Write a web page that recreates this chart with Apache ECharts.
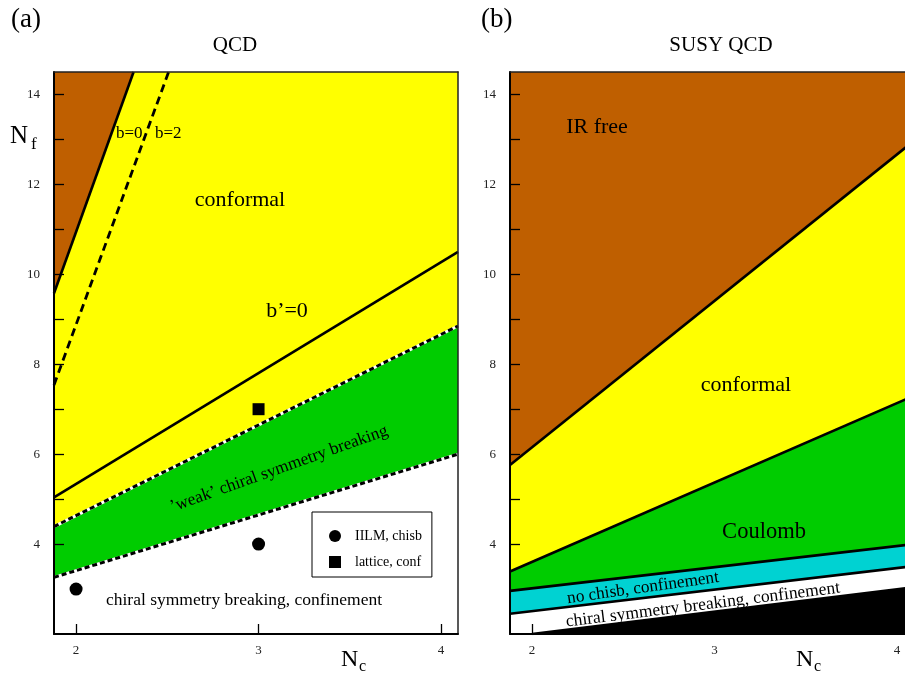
<!DOCTYPE html>
<html><head><meta charset="utf-8">
<script src="https://cdn.jsdelivr.net/npm/echarts@6/dist/echarts.min.js"></script>
<style>html,body{margin:0;padding:0;background:#fff}#c{width:905px;height:673px}</style>
</head><body><div id="c"></div>
<script>
// ---- axis ranges and ticks ----
const xRange = [1.879, 4.093];
const yRange = [2.0, 14.5];
const xTicks = [2, 3, 4];
const yTickLabels = [4, 6, 8, 10, 12, 14];
const yTicks = [4, 5, 6, 7, 8, 9, 10, 11, 12, 13, 14];

// ---- panel (a) QCD: boundary lines [Nc, Nf] ----
const qcdB0 = [[1.879, 9.58], [2.315, 14.5]];
const qcdB2 = [[1.879, 7.54], [2.507, 14.5]];
const qcdBp0 = [[1.879, 5.04], [4.093, 10.5]];
const qcdWeakTop = [[1.879, 4.39], [4.093, 8.85]];
const qcdWeakBottom = [[1.879, 3.26], [4.093, 6.0]];
const iilmPoints = [[2, 3], [3, 4]];
const latticePoints = [[3, 7]];

// ---- panel (b) SUSY QCD: boundary lines [Nc, Nf] ----
const susyIRfree = [[1.879, 5.76], [4.093, 12.97]];
const susyConformal = [[1.879, 3.39], [4.093, 7.30]];
const susyCoulomb = [[1.879, 2.96], [4.093, 4.0]];
const susyNoChisb = [[1.879, 2.45], [4.093, 3.51]];
const susyChisb = [[2.0, 2.0], [4.093, 3.04]];

const SERIF = '"Liberation Serif", "DejaVu Serif", serif';
const BROWN = '#bf5f00', YELLOW = '#ffff00', GREEN = '#00cc00', CYAN = '#00d2d2';

function xAxes(g) {
  return [{
    type: 'value', gridIndex: g, min: xRange[0], max: xRange[1], position: 'bottom', z: 20,
    axisLine: {show: true, onZero: false, lineStyle: {color: '#000', width: 2}},
    axisTick: {show: true, inside: true, length: 10, customValues: xTicks, lineStyle: {color: '#000', width: 1.3}},
    axisLabel: {show: true, customValues: xTicks, margin: 10, fontSize: 13, fontFamily: SERIF, color: '#222'},
    splitLine: {show: false}
  }, {
    type: 'value', gridIndex: g, min: xRange[0], max: xRange[1], position: 'top', z: 20,
    axisLine: {show: true, onZero: false, lineStyle: {color: '#222', width: 1.5}},
    axisTick: {show: false}, axisLabel: {show: false}, splitLine: {show: false}
  }];
}
function yAxes(g) {
  return [{
    type: 'value', gridIndex: g, min: yRange[0], max: yRange[1], position: 'left', z: 20,
    axisLine: {show: true, onZero: false, lineStyle: {color: '#000', width: 2}},
    axisTick: {show: true, inside: true, length: 10, customValues: yTicks, lineStyle: {color: '#000', width: 1.3}},
    axisLabel: {show: true, customValues: yTickLabels, margin: 14, fontSize: 13, fontFamily: SERIF, color: '#222'},
    splitLine: {show: false}
  }, {
    type: 'value', gridIndex: g, min: yRange[0], max: yRange[1], position: 'right', z: 20,
    axisLine: {show: true, onZero: false, lineStyle: {color: '#222', width: 1.5}},
    axisTick: {show: false}, axisLabel: {show: false}, splitLine: {show: false}
  }];
}

function area(data, color, origin, xi, z) {
  return {type: 'line', data, xAxisIndex: xi, yAxisIndex: xi, symbol: 'none', z,
    lineStyle: {width: 0, opacity: 0}, areaStyle: {color, opacity: 1, origin}, silent: true};
}
function line(data, xi, z, width, type, color) {
  return {type: 'line', data, xAxisIndex: xi, yAxisIndex: xi, symbol: 'none', z,
    lineStyle: {width, type: type || 'solid', color: color || '#000', cap: 'butt'}, silent: true};
}

const series = [
  // panel (a)
  area(qcdB0, BROWN, 'end', 0, 1),
  area(qcdWeakTop, GREEN, 'start', 0, 2),
  area(qcdWeakBottom, '#ffffff', 'start', 0, 3),
  line(qcdB0, 0, 5, 2.6),
  line(qcdB2, 0, 5, 2.8, [8, 5]),
  line(qcdBp0, 0, 5, 2.6),
  line(qcdWeakTop, 0, 4, 3, 'solid', '#fff'),
  line(qcdWeakTop, 0, 5, 3, [5, 3]),
  line(qcdWeakBottom, 0, 4, 3, 'solid', '#fff'),
  line(qcdWeakBottom, 0, 5, 3, [5, 3]),
  {type: 'scatter', name: 'IILM, chisb', data: iilmPoints, xAxisIndex: 0, yAxisIndex: 0, symbol: 'circle', symbolSize: 13, itemStyle: {color: '#000', opacity: 1}, z: 6},
  {type: 'scatter', name: 'lattice, conf', data: latticePoints, xAxisIndex: 0, yAxisIndex: 0, symbol: 'rect', symbolSize: 12, itemStyle: {color: '#000', opacity: 1}, z: 6},
  // panel (b)
  area(susyIRfree, YELLOW, 'start', 2, 1),
  area(susyConformal, GREEN, 'start', 2, 2),
  area(susyCoulomb, CYAN, 'start', 2, 3),
  area(susyNoChisb, '#ffffff', 'start', 2, 4),
  area(susyChisb, '#000000', 'start', 2, 5),
  line(susyIRfree, 2, 6, 2.6),
  line(susyConformal, 2, 6, 2.6),
  line(susyCoulomb, 2, 6, 2.6),
  line(susyNoChisb, 2, 6, 2.6),
  line(susyChisb, 2, 6, 2.6)
];

function txt(x, y, text, size, opts) {
  opts = opts || {};
  return {type: 'text', x, y, rotation: opts.rot || 0, z: 100,
    style: {text, fontSize: size, fontFamily: SERIF, fill: '#000',
      align: opts.align || 'center', verticalAlign: 'middle'}};
}
const deg = Math.PI / 180;

const graphics = [
  txt(11, 20, '(a)', 27, {align: 'left'}),
  txt(235, 45, 'QCD', 21),
  txt(481, 20, '(b)', 27, {align: 'left'}),
  txt(721, 45, 'SUSY QCD', 21),
  txt(10, 136, 'N', 25, {align: 'left'}),
  txt(31, 145, 'f', 17, {align: 'left'}),
  txt(341, 660, 'N', 24, {align: 'left'}),
  txt(359, 667, 'c', 16, {align: 'left'}),
  txt(796, 660, 'N', 24, {align: 'left'}),
  txt(814, 667, 'c', 16, {align: 'left'}),
  // panel (a) annotations
  txt(116, 134, 'b=0', 17, {align: 'left'}),
  txt(155, 134, 'b=2', 17, {align: 'left'}),
  txt(240, 200, 'conformal', 22),
  txt(287, 311, 'b’=0', 22),
  txt(279, 469, '’weak’ chiral symmetry breaking', 17.3, {rot: 19.6 * deg}),
  txt(244, 600, 'chiral symmetry breaking, confinement', 17.5),
  // panel (b) annotations
  txt(597, 127, 'IR free', 22),
  txt(746, 385, 'conformal', 22),
  txt(764, 532, 'Coulomb', 22.5),
  txt(643, 588, 'no chisb, confinement', 17.3, {rot: 8 * deg}),
  txt(703, 605, 'chiral symmetry breaking, confinement', 17.5, {rot: 7.1 * deg})
];

const chart = echarts.init(document.getElementById('c'), null, {renderer: 'canvas'});
chart.setOption({
  animation: false,
  backgroundColor: '#fff',
  grid: [
    {left: 54, top: 72, width: 404, height: 562, show: true, backgroundColor: YELLOW, borderWidth: 0, containLabel: false, outerBoundsMode: 'none'},
    {left: 510, top: 72, width: 404, height: 562, show: true, backgroundColor: BROWN, borderWidth: 0, containLabel: false, outerBoundsMode: 'none'}
  ],
  xAxis: [...xAxes(0), ...xAxes(1)],
  yAxis: [...yAxes(0), ...yAxes(1)],
  legend: {
    show: true, orient: 'vertical', left: 312, top: 512,
    data: [{name: 'IILM, chisb', icon: 'circle'}, {name: 'lattice, conf', icon: 'rect'}],
    itemWidth: 12, itemHeight: 12, itemGap: 12,
    padding: [17, 10, 8, 17],
    backgroundColor: '#fff', borderColor: '#000', borderWidth: 1, borderRadius: 0,
    selectedMode: false, z: 50,
    itemStyle: {opacity: 1},
    textStyle: {fontSize: 14, fontFamily: SERIF, color: '#000', padding: [0, 0, 0, 9]}
  },
  series,
  graphic: graphics
});
</script>
</body></html>
